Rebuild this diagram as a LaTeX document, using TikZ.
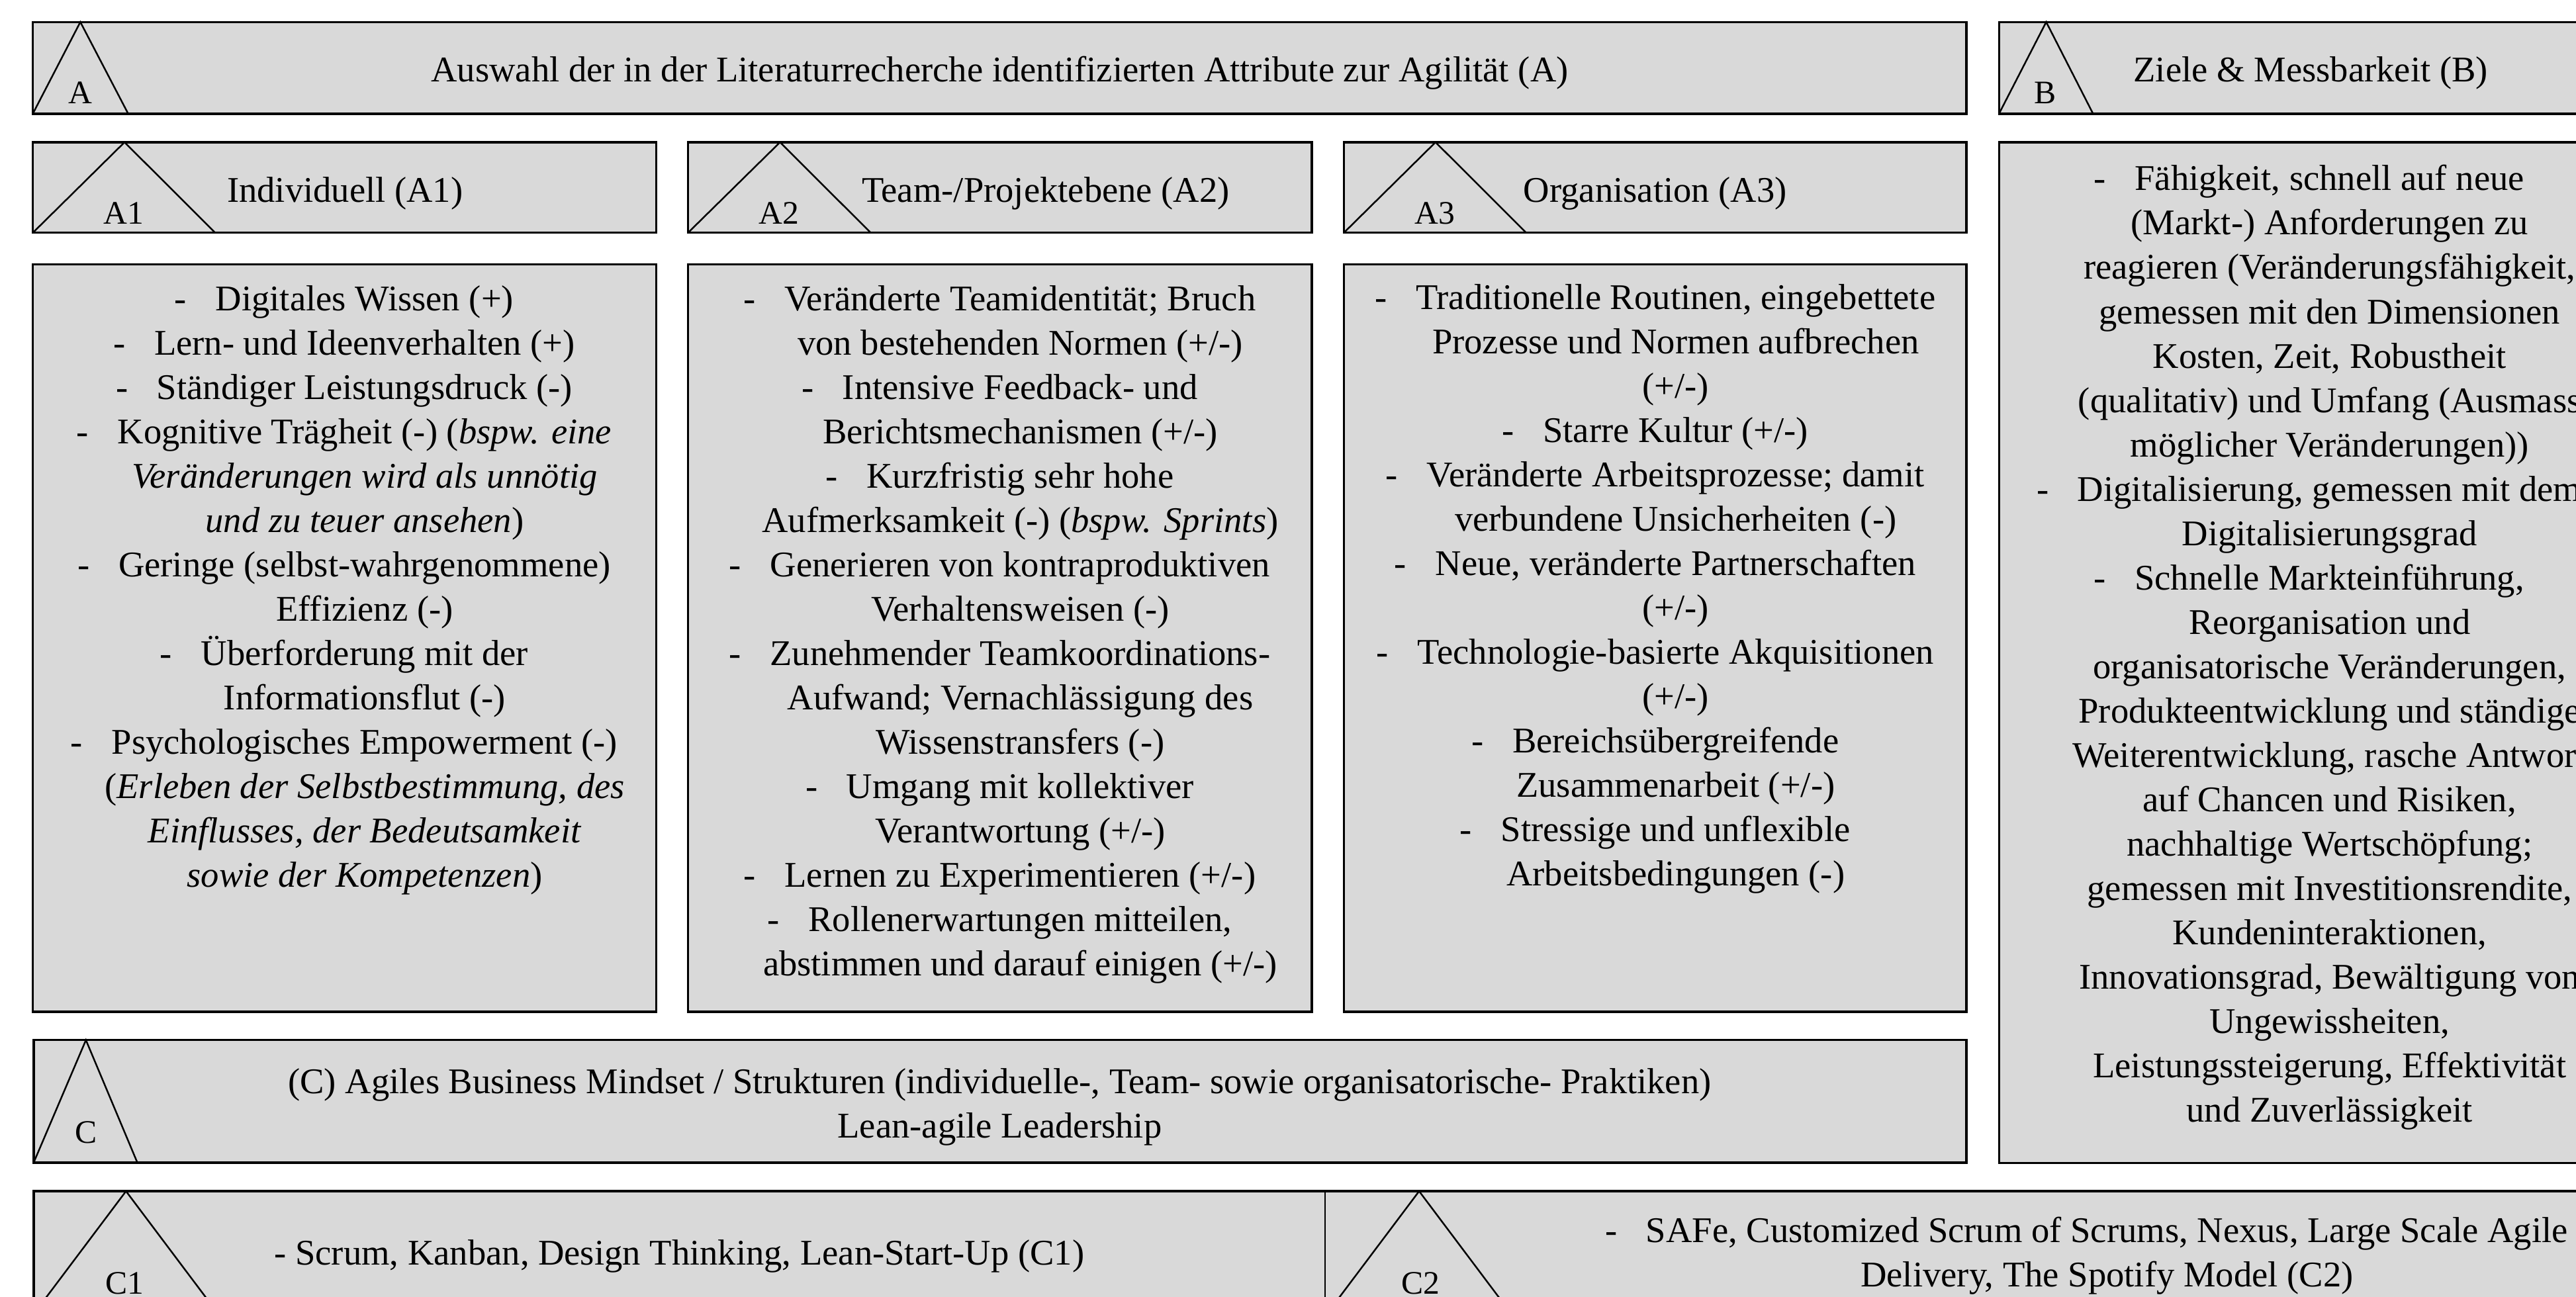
\documentclass[tikz,border=0pt]{standalone}
\usepackage{fontspec}
\setmainfont{Liberation Serif}
\usetikzlibrary{fit}
\definecolor{boxgray}{RGB}{217,217,217}
\newcommand\itm{-\hspace{0.8em}}
\newcommand\cnt{\hspace*{25pt}}
\newcommand\fst{\rule{0pt}{20pt}}
\begin{document}
\begin{tikzpicture}[x=1pt,y=-1pt,
  boxst/.style={draw=black, line width=1.4pt, fill=boxgray, inner sep=0pt},
  tri/.style={draw=black, line width=1pt, line join=miter},
  txt/.style={inner sep=0pt, font=\fontsize{22}{27}\selectfont, align=center, anchor=north},
  hdr/.style={inner sep=0pt, font=\fontsize{22}{27}\selectfont, anchor=base},
  lbl/.style={inner sep=0pt, font=\fontsize{20}{24}\selectfont, anchor=base}]
\useasboundingbox (0,0) rectangle (1568,789.6);
\clip (0,0) rectangle (1568,789.6);
% boxes
\node[boxst, fit={(20,13.4)(1197,69.2)}] (A) {};
\node[boxst, fit={(1216.8,13.4)(1595,69.2)}] (B) {};
\node[boxst, fit={(20,86.6)(399.5,141.7)}] (A1h) {};
\node[boxst, fit={(418.8,86.6)(798.5,141.7)}] (A2h) {};
\node[boxst, fit={(818,86.6)(1197,141.7)}] (A3h) {};
\node[boxst, fit={(20,160.9)(399.5,616)}] (A1b) {};
\node[boxst, fit={(418.8,160.9)(798.5,616)}] (A2b) {};
\node[boxst, fit={(818,160.9)(1197,616)}] (A3b) {};
\node[boxst, fit={(1216.8,86.6)(1595,708)}] (Bb) {};
\node[boxst, fit={(20.5,633.2)(1197,707.8)}] (C) {};
\node[boxst, fit={(20.5,725.2)(1760,810)}] (Crow) {};
\draw[line width=1pt] (806.5,725.2) -- (806.5,810);
% triangles
\draw[tri] (20,69.2) -- (48.9,13.4) -- (78,69.2);
\draw[tri] (1216.8,69.2) -- (1245.5,13.4) -- (1274,69.2);
\draw[tri] (20,141.7) -- (75.8,86.6) -- (131,141.7);
\draw[tri] (418.8,141.7) -- (474.8,86.6) -- (530,141.7);
\draw[tri] (818,141.7) -- (873.8,86.6) -- (929,141.7);
\draw[tri] (20.5,707.8) -- (52.3,633.2) -- (83.6,707.8);
\draw[tri] (20.5,800) -- (76.7,725.2) -- (132.9,800);
\draw[tri] (807.6,800) -- (863.8,725.2) -- (920,800);
% labels
\node[lbl] (lA) at (48.8,63) {A};
\node[lbl] (lB) at (1245,63) {B};
\node[lbl] (lA1) at (75.3,136.4) {A1};
\node[lbl] (lA2) at (474.3,136.4) {A2};
\node[lbl] (lA3) at (873.3,136.4) {A3};
\node[lbl] (lC) at (52.5,696) {C};
\node[lbl] (lC1) at (76,788) {C1};
\node[lbl] (lC2) at (864.6,788) {C2};
% header texts
\node[hdr] (tA) at (608.5,49.7) {Auswahl der in der Literaturrecherche identifizierten Attribute zur Agilität (A)};
\node[hdr] (tB) at (1406.5,49.7) {Ziele \& Messbarkeit (B)};
\node[hdr] (tA1) at (210,123) {Individuell (A1)};
\node[hdr] (tA2) at (636.5,123) {Team-/Projektebene (A2)};
\node[hdr] (tA3) at (1007.5,123) {Organisation (A3)};
% bodies
\node[txt] (bA1) at (209.5,169) {\fst\itm Digitales Wissen (+)\\
\itm Lern- und Ideenverhalten (+)\\
\itm Ständiger Leistungsdruck (-)\\
\itm Kognitive Trägheit (-) (\textit{bspw. eine}\\
\cnt\textit{Veränderungen wird als unnötig}\\
\cnt\textit{und zu teuer ansehen})\\
\itm Geringe (selbst-wahrgenommene)\\
\cnt Effizienz (-)\\
\itm Überforderung mit der\\
\cnt Informationsflut (-)\\
\itm Psychologisches Empowerment (-)\\
\cnt(\textit{Erleben der Selbstbestimmung, des}\\
\cnt\textit{Einflusses, der Bedeutsamkeit}\\
\cnt\textit{sowie der Kompetenzen})};
\node[txt] (bA2) at (608.5,169) {\fst\itm Veränderte Teamidentität; Bruch\\
\cnt von bestehenden Normen (+/-)\\
\itm Intensive Feedback- und\\
\cnt Berichtsmechanismen (+/-)\\
\itm Kurzfristig sehr hohe\\
\cnt Aufmerksamkeit (-) (\textit{bspw. Sprints})\\
\itm Generieren von kontraproduktiven\\
\cnt Verhaltensweisen (-)\\
\itm Zunehmender Teamkoordinations-\\
\cnt Aufwand; Vernachlässigung des\\
\cnt Wissenstransfers (-)\\
\itm Umgang mit kollektiver\\
\cnt Verantwortung (+/-)\\
\itm Lernen zu Experimentieren (+/-)\\
\itm Rollenerwartungen mitteilen,\\
\cnt abstimmen und darauf einigen (+/-)};
\node[txt] (bA3) at (1007.5,168) {\fst\itm Traditionelle Routinen, eingebettete\\
\cnt Prozesse und Normen aufbrechen\\
\cnt (+/-)\\
\itm Starre Kultur (+/-)\\
\itm Veränderte Arbeitsprozesse; damit\\
\cnt verbundene Unsicherheiten (-)\\
\itm Neue, veränderte Partnerschaften\\
\cnt (+/-)\\
\itm Technologie-basierte Akquisitionen\\
\cnt (+/-)\\
\itm Bereichsübergreifende\\
\cnt Zusammenarbeit (+/-)\\
\itm Stressige und unflexible\\
\cnt Arbeitsbedingungen (-)};
\node[txt] (bB) at (1405.5,95.8) {\fst\itm Fähigkeit, schnell auf neue\\
\cnt (Markt-) Anforderungen zu\\
\cnt reagieren (Veränderungsfähigkeit,\\
\cnt gemessen mit den Dimensionen\\
\cnt Kosten, Zeit, Robustheit\\
\cnt (qualitativ) und Umfang (Ausmass\\
\cnt möglicher Veränderungen))\\
\itm Digitalisierung, gemessen mit dem\\
\cnt Digitalisierungsgrad\\
\itm Schnelle Markteinführung,\\
\cnt Reorganisation und\\
\cnt organisatorische Veränderungen,\\
\cnt Produkteentwicklung und ständige\\
\cnt Weiterentwicklung, rasche Antwort\\
\cnt auf Chancen und Risiken,\\
\cnt nachhaltige Wertschöpfung;\\
\cnt gemessen mit Investitionsrendite,\\
\cnt Kundeninteraktionen,\\
\cnt Innovationsgrad, Bewältigung von\\
\cnt Ungewissheiten,\\
\cnt Leistungssteigerung, Effektivität\\
\cnt und Zuverlässigkeit};
\node[txt] (tC) at (608.5,645.5) {\fst(C) Agiles Business Mindset / Strukturen (individuelle-, Team- sowie organisatorische- Praktiken)\\
Lean-agile Leadership};
\node[hdr] (tC1) at (413.5,770) {- Scrum, Kanban, Design Thinking, Lean-Start-Up (C1)};
\node[txt] (tC2) at (1270,736) {\fst\itm SAFe, Customized Scrum of Scrums, Nexus, Large Scale Agile\\
\cnt Delivery, The Spotify Model (C2)};
\end{tikzpicture}
\end{document}
